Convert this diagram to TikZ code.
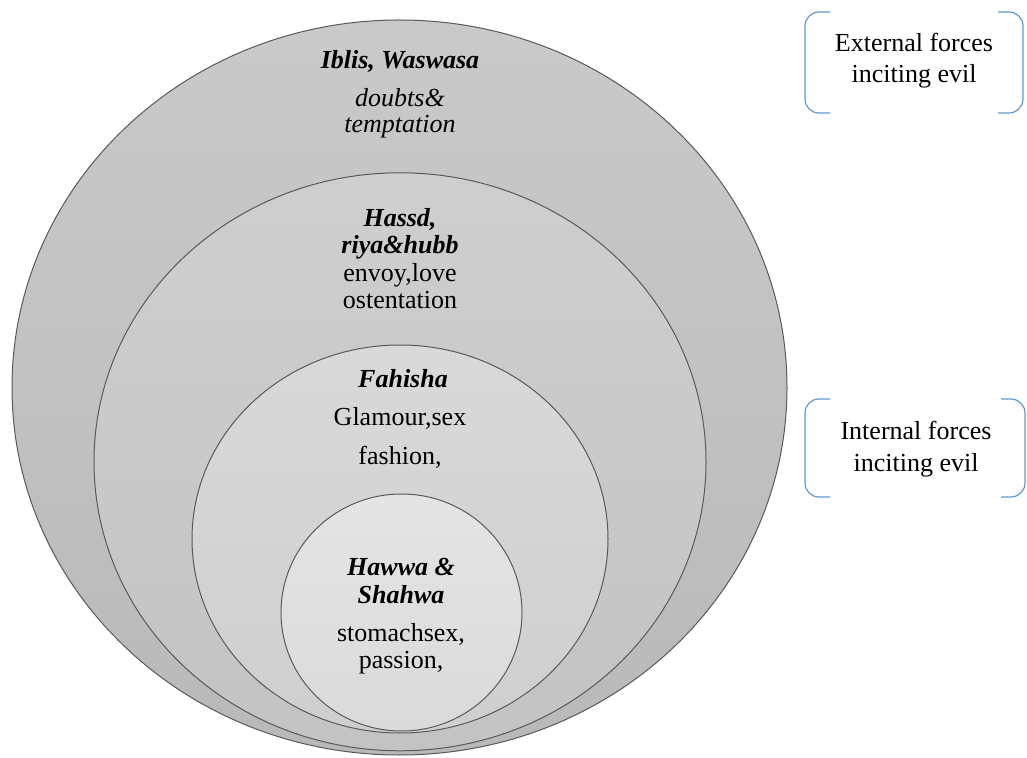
\documentclass[tikz,border=0pt]{standalone}
\usepackage{fontspec}
\setmainfont{Liberation Serif}

\definecolor{bracketblue}{HTML}{5B9BD5}
\tikzset{
    ring/.style={draw=black!65, line width=0.5pt},
    txt/.style={anchor=base, inner sep=0pt, font=\fontsize{13}{14}\selectfont},
    keytxt/.style={txt, font=\fontsize{13}{14}\selectfont\bfseries\itshape},
    bracket/.style={draw=bracketblue, line width=0.6pt, rounded corners=7pt},
}

\begin{document}
\begin{tikzpicture}[x=0.5pt, y=-0.5pt]
        \useasboundingbox (0,0) rectangle (1027,758);

        % nested rings
        \draw[ring, top color=gray!42, bottom color=gray!55] (399.5,387.5) ellipse [x radius=387.5, y radius=367.5];
        \draw[ring, top color=gray!38, bottom color=gray!47] (400,461.8) ellipse [x radius=306, y radius=289];
        \draw[ring, top color=gray!30, bottom color=gray!38] (400,539) ellipse [x radius=208, y radius=194];
        \draw[ring, top color=gray!21, bottom color=gray!29] (401.5,612.5) ellipse [x radius=120.5, y radius=118.5];

        % outer ring
        \node[keytxt] (iblis) at (400,69) {Iblis, Waswasa};
        \node[txt, font=\fontsize{13}{14}\selectfont\itshape] (doubts) at (400,107) {doubts\&};
        \node[txt, font=\fontsize{13}{14}\selectfont\itshape] (tempt) at (400,133) {temptation};

        % second ring
        \node[keytxt] (hassd) at (400,227) {Hassd,};
        \node[keytxt] (riya) at (400,254) {riya\&hubb};
        \node[txt] (envoy) at (400,282) {envoy,love};
        \node[txt] (osten) at (400,309) {ostentation};

        % third ring
        \node[keytxt] (fahisha) at (403,388) {Fahisha};
        \node[txt] (glam) at (400,426) {Glamour,sex};
        \node[txt] (fashion) at (400,465) {fashion,};

        % inner ring
        \node[keytxt] (hawwa) at (401,575) {Hawwa \&};
        \node[keytxt] (shahwa) at (401,603) {Shahwa};
        \node[txt] (stomach) at (401,641) {stomachsex,};
        \node[txt] (passion) at (401,668) {passion,};

        % bracket boxes
        \draw[bracket] (830,12) -- (805,12) -- (805,113) -- (830,113);
        \draw[bracket] (998,12) -- (1023,12) -- (1023,113) -- (998,113);
        \node[txt] (ext1) at (914,52) {External forces};
        \node[txt] (ext2) at (914,83) {inciting evil};

        \draw[bracket] (830,399) -- (805,399) -- (805,497) -- (830,497);
        \draw[bracket] (1001,399) -- (1025,399) -- (1025,497) -- (1001,497);
        \node[txt] (int1) at (916,440) {Internal forces};
        \node[txt] (int2) at (916,472) {inciting evil};
\end{tikzpicture}
\end{document}
